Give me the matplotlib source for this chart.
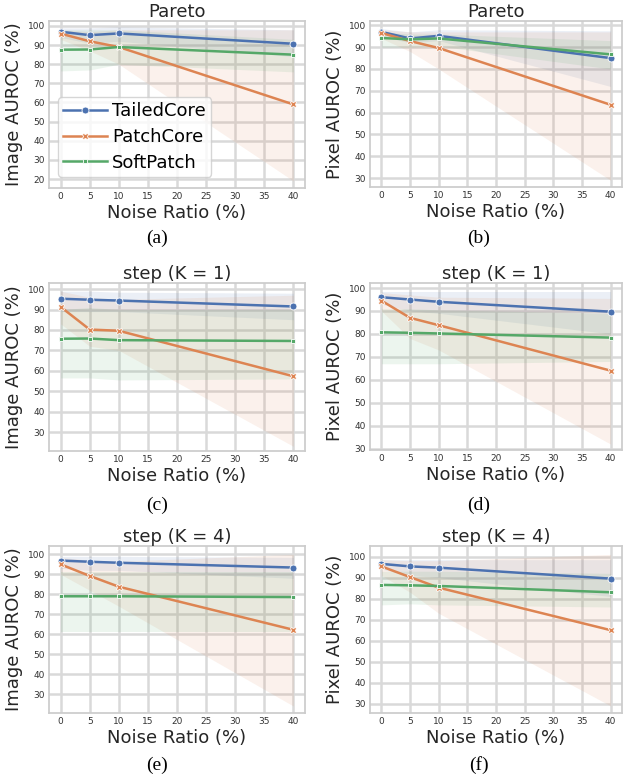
import matplotlib
matplotlib.use('Agg')
import matplotlib.pyplot as plt
from matplotlib.ticker import MultipleLocator

# Noise ratios on the x-axis
noise = [0, 5, 10, 40]
methods = ['TailedCore', 'PatchCore', 'SoftPatch']

# (a) Pareto, image AUROC: mean, band low, band high
a_tailed = [97.0, 95.2, 96.1, 90.7]
a_tailed_lo = [94.0, 91.0, 92.0, 84.0]
a_tailed_hi = [99.0, 99.0, 99.5, 98.0]
a_patch = [96.0, 92.0, 89.0, 59.0]
a_patch_lo = [93.0, 87.0, 80.0, 19.0]
a_patch_hi = [98.0, 97.0, 98.0, 98.0]
a_soft = [87.6, 87.7, 89.0, 85.0]
a_soft_lo = [76.5, 77.0, 80.0, 76.0]
a_soft_hi = [98.0, 98.0, 98.0, 93.0]

# (b) Pareto, pixel AUROC
b_tailed = [97.0, 94.0, 95.2, 85.0]
b_tailed_lo = [95.0, 92.0, 93.0, 72.0]
b_tailed_hi = [98.5, 97.0, 98.0, 97.5]
b_patch = [96.5, 92.8, 89.6, 63.6]
b_patch_lo = [94.0, 88.0, 80.0, 29.0]
b_patch_hi = [98.0, 97.0, 97.0, 97.0]
b_soft = [94.2, 93.6, 94.0, 86.7]
b_soft_lo = [90.0, 90.0, 90.5, 80.0]
b_soft_hi = [97.0, 96.0, 96.0, 93.0]

# (c) step (K = 1), image AUROC
c_tailed = [95.3, 94.8, 94.4, 91.5]
c_tailed_lo = [89.0, 89.0, 89.0, 85.0]
c_tailed_hi = [99.0, 99.0, 98.5, 98.0]
c_patch = [91.3, 80.2, 79.6, 57.3]
c_patch_lo = [83.0, 72.0, 70.0, 23.0]
c_patch_hi = [99.0, 96.0, 95.0, 97.0]
c_soft = [75.7, 75.8, 75.0, 74.6]
c_soft_lo = [56.5, 56.5, 55.5, 56.0]
c_soft_hi = [90.0, 91.0, 90.0, 90.0]

# (d) step (K = 1), pixel AUROC
d_tailed = [96.0, 95.0, 94.0, 89.7]
d_tailed_lo = [93.0, 90.0, 89.0, 80.0]
d_tailed_hi = [98.5, 98.5, 98.5, 98.5]
d_patch = [94.5, 87.0, 83.8, 64.0]
d_patch_lo = [90.0, 78.0, 73.0, 32.0]
d_patch_hi = [98.0, 97.0, 96.0, 95.5]
d_soft = [80.7, 80.5, 80.2, 78.4]
d_soft_lo = [67.0, 67.0, 67.0, 68.0]
d_soft_hi = [91.0, 91.0, 90.5, 89.0]

# (e) step (K = 4), image AUROC
e_tailed = [96.9, 96.3, 95.8, 93.4]
e_tailed_lo = [93.0, 92.0, 92.0, 88.0]
e_tailed_hi = [99.0, 99.0, 99.0, 98.5]
e_patch = [95.0, 89.2, 83.8, 62.2]
e_patch_lo = [90.0, 82.0, 74.0, 24.0]
e_patch_hi = [98.5, 97.0, 96.5, 100.0]
e_soft = [79.0, 79.0, 79.0, 78.6]
e_soft_lo = [61.0, 61.0, 61.0, 61.0]
e_soft_hi = [91.0, 91.0, 91.0, 91.0]

# (f) step (K = 4), pixel AUROC
f_tailed = [96.5, 95.3, 94.7, 89.5]
f_tailed_lo = [94.0, 91.0, 90.0, 81.0]
f_tailed_hi = [98.5, 98.5, 98.5, 98.5]
f_patch = [95.3, 90.2, 85.2, 65.0]
f_patch_lo = [91.0, 83.0, 73.0, 29.0]
f_patch_hi = [98.5, 98.0, 98.0, 101.0]
f_soft = [86.5, 86.3, 86.0, 83.0]
f_soft_lo = [77.0, 77.5, 77.0, 76.0]
f_soft_hi = [93.0, 93.0, 93.0, 92.0]

titles = ['Pareto', 'Pareto', 'step (K = 1)', 'step (K = 1)', 'step (K = 4)', 'step (K = 4)']
ylabels = ['Image AUROC (%)', 'Pixel AUROC (%)'] * 3
captions = ['(a)', '(b)', '(c)', '(d)', '(e)', '(f)']
ylims = [(15.3, 102.6), (25.9, 102.0), (20.7, 103.0), (29.4, 102.2), (20.5, 104.2), (25.6, 105.0)]

panels = [
    [(a_tailed, a_tailed_lo, a_tailed_hi), (a_patch, a_patch_lo, a_patch_hi), (a_soft, a_soft_lo, a_soft_hi)],
    [(b_tailed, b_tailed_lo, b_tailed_hi), (b_patch, b_patch_lo, b_patch_hi), (b_soft, b_soft_lo, b_soft_hi)],
    [(c_tailed, c_tailed_lo, c_tailed_hi), (c_patch, c_patch_lo, c_patch_hi), (c_soft, c_soft_lo, c_soft_hi)],
    [(d_tailed, d_tailed_lo, d_tailed_hi), (d_patch, d_patch_lo, d_patch_hi), (d_soft, d_soft_lo, d_soft_hi)],
    [(e_tailed, e_tailed_lo, e_tailed_hi), (e_patch, e_patch_lo, e_patch_hi), (e_soft, e_soft_lo, e_soft_hi)],
    [(f_tailed, f_tailed_lo, f_tailed_hi), (f_patch, f_patch_lo, f_patch_hi), (f_soft, f_soft_lo, f_soft_hi)],
]

colors = ['#4C72B0', '#DD8452', '#55A868']
markers = ['o', 'X', (4, 0, 45)]

W, H = 623, 784
fig = plt.figure(figsize=(W / 100, H / 100), dpi=100)

# axes boxes in pixels: left, top, width, height
boxes = [(49, 21, 256, 167), (370, 21, 252, 166),
         (49, 283, 256, 168), (370, 283, 252, 167),
         (49, 546, 256, 167), (370, 546, 252, 167)]
cap_pos = [(157, 238), (479, 238), (157, 505), (479, 505), (157, 765), (479, 765)]

for i, (l, t, w, h) in enumerate(boxes):
    ax = fig.add_axes([l / W, (H - t - h) / H, w / W, h / H])
    ax.set_facecolor('white')
    for s in ax.spines.values():
        s.set_color('#cccccc')
        s.set_linewidth(1.25)
    ax.grid(True, color='#d9d9d9', linewidth=1.8)
    ax.set_axisbelow(True)

    for j, (mean, lo, hi) in enumerate(panels[i]):
        ax.fill_between(noise, lo, hi, color=colors[j], alpha=0.11, linewidth=0)
        ax.plot(noise, mean, color=colors[j], linewidth=1.8, marker=markers[j],
                markersize=5, markeredgecolor='white', markeredgewidth=0.6,
                label=methods[j])

    ax.set_xlim(-2, 42)
    ax.set_ylim(*ylims[i])
    ax.xaxis.set_major_locator(MultipleLocator(5))
    ax.yaxis.set_major_locator(MultipleLocator(10))
    ax.tick_params(length=0, labelsize=6.5, labelcolor='#333333', pad=3)
    ax.set_title(titles[i], fontsize=13, color='#262626', pad=3)
    ax.set_ylabel(ylabels[i], fontsize=13, color='#262626', labelpad=3)
    ax.set_xlabel('Noise Ratio (%)', fontsize=13, color='#262626', labelpad=2)

    if i == 0:
        leg = ax.legend(loc='lower left', fontsize=13, handlelength=2.4,
                        handletextpad=0.3, borderpad=0.3, labelspacing=0.42,
                        borderaxespad=0, frameon=True,
                        bbox_to_anchor=(0.035, 0.066))
        leg.get_frame().set_edgecolor('#cccccc')
        for ln in leg.get_lines():
            ln.set_linewidth(1.8)

    fig.text(cap_pos[i][0] / W, 1 - cap_pos[i][1] / H, captions[i],
             family='Liberation Serif', fontsize=14, ha='center', va='center')

fig.savefig('out.png', dpi=100)
